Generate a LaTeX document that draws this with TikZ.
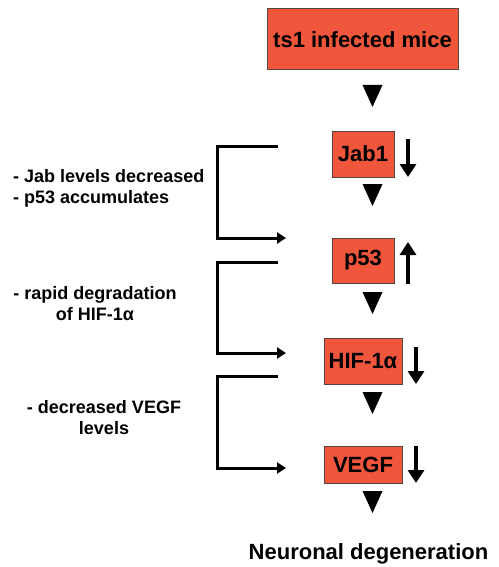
\documentclass[tikz,border=0pt]{standalone}
\usepackage{fontspec}
\setmainfont{Liberation Sans}
\usetikzlibrary{arrows.meta}
\definecolor{boxred}{RGB}{240,86,60}
\definecolor{boxedge}{RGB}{90,70,65}
\begin{document}
\begin{tikzpicture}[x=1pt,y=-1pt,
  gene/.style={draw=boxedge,line width=1pt,fill=boxred,inner sep=0pt,
    font=\fontsize{22}{26}\selectfont\bfseries},
  note/.style={font=\fontsize{18}{21}\selectfont\bfseries,inner sep=0pt},
  bracket/.style={line width=3pt,-{Triangle[length=9pt,width=11pt]}},
  updown/.style={line width=4.5pt,-{Triangle[length=13pt,width=16pt]}},
  tri/.style={fill=black}]
\useasboundingbox (0,0) rectangle (498,567);
% boxes
\node[gene,minimum width=191pt,minimum height=61pt] (top) at (362.5,39.5) {ts1 infected mice};
\node[gene,minimum width=62pt,minimum height=46pt] (jab) at (363,154) {Jab1};
\node[gene,minimum width=62pt,minimum height=45pt] (p53) at (363,260.5) {p53};
\node[gene,minimum width=78pt,minimum height=46pt] (hif) at (363,361) {HIF-1α};
\node[gene,minimum width=78pt,minimum height=37pt] (vegf) at (363,464.5) {VEGF};
\node[font=\fontsize{22}{26}\selectfont\bfseries,inner sep=0pt] (nd) at (368.5,554) {Neuronal degeneration};
% triangles
\foreach \n/\y in {t1/85,t2/184,t3/292,t4/392,t5/491}{
  \coordinate (\n) at (372.5,\y);
  \fill[tri] (\n) ++(-10,0) -- ++(20,0) -- ++(-10,22) -- cycle;
}
% side arrows
\coordinate (jabA) at (408,139); \coordinate (jabB) at (408,177);
\draw[updown] (jabA) -- (jabB);
\coordinate (p53A) at (408,284); \coordinate (p53B) at (408,242);
\draw[updown] (p53A) -- (p53B);
\coordinate (hifA) at (416,347); \coordinate (hifB) at (416,384);
\draw[updown] (hifA) -- (hifB);
\coordinate (vegA) at (416,446); \coordinate (vegB) at (416,483);
\draw[updown] (vegA) -- (vegB);
% brackets
\coordinate (b1s) at (278,146); \coordinate (b1e) at (286,238);
\coordinate (b2s) at (278,262); \coordinate (b2e) at (286,353);
\coordinate (b3s) at (278,376); \coordinate (b3e) at (286,468);
\draw[bracket] (b1s) -| (217,238) -- (b1e);
\draw[bracket] (b2s) -| (217,353) -- (b2e);
\draw[bracket] (b3s) -| (217,468) -- (b3e);
% notes
\node[note,align=left,anchor=west] (n1) at (13,188.5) {- Jab levels decreased\\- p53 accumulates};
\node[note,align=center] (n2) at (95,304) {- rapid degradation\\of HIF-1α};
\node[note,align=center] (n3) at (104,418) {- decreased VEGF\\levels};
\end{tikzpicture}
\end{document}
